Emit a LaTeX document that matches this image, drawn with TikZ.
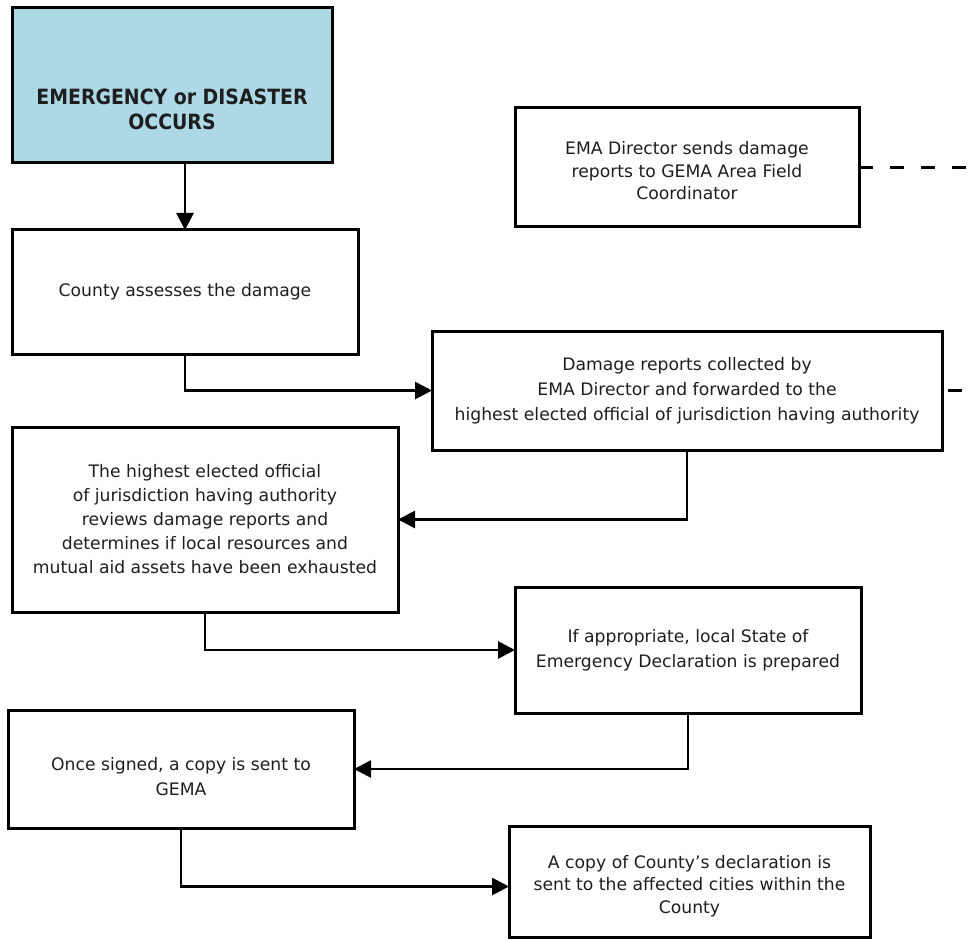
\documentclass[tikz,border=0pt]{standalone}
\usepackage{fontspec}
\setmainfont{DejaVu Sans}
\newfontfamily\condfont{DejaVu Sans Condensed}
\usetikzlibrary{arrows.meta}
\definecolor{ltblue}{RGB}{173,216,230}
\definecolor{txt}{RGB}{30,30,30}
\begin{document}
\begin{tikzpicture}[x=1pt,y=-1pt,
  box/.style={draw=black,line width=3pt,rectangle,inner sep=0pt,outer sep=0pt,align=center,text=txt},
  lbl/.style={inner sep=0pt,align=center,text=txt},
  arr/.style={line width=2.8pt,-{Triangle[length=17pt,width=17pt]}},
  dashline/.style={line width=2.8pt,dash pattern=on 14pt off 17pt},
  t20/.style={font=\fontsize{17.2}{20}\selectfont},
  t22/.style={font=\fontsize{17.2}{22.5}\selectfont},
  t25/.style={font=\fontsize{17.2}{25}\selectfont}]
\useasboundingbox (0,0) rectangle (968,941);
\node[box,fill=ltblue,minimum width=320pt,minimum height=155pt] (b1) at (172,85.5) {};
\node[lbl,font=\condfont\bfseries\fontsize{21}{25}\selectfont] (b1t) at (172,109) {EMERGENCY or DISASTER\\OCCURS};
\node[box,minimum width=346pt,minimum height=124pt,t20] (b2) at (185,292) {County assesses the damage};
\node[box,minimum width=344pt,minimum height=119pt] (b3) at (687,167.5) {};
\node[lbl,t22] (b3t) at (687,171) {EMA Director sends damage\\reports to GEMA Area Field\\Coordinator};
\node[box,minimum width=510pt,minimum height=119pt,t25] (b4) at (687,390.5) {Damage reports collected by\\EMA Director and forwarded to the\\highest elected official of jurisdiction having authority};
\node[box,minimum width=386pt,minimum height=185pt,font=\fontsize{17.2}{24}\selectfont] (b5) at (205,519.5) {The highest elected official\\of jurisdiction having authority\\reviews damage reports and\\determines if local resources and\\mutual aid assets have been exhausted};
\node[box,minimum width=346pt,minimum height=126pt,t25] (b6) at (688,650) {If appropriate, local State of\\Emergency Declaration is prepared};
\node[box,minimum width=346pt,minimum height=118pt] (b7) at (181,769) {};
\node[lbl,t25] (b7t) at (181,777) {Once signed, a copy is sent to\\GEMA};
\node[box,minimum width=361pt,minimum height=111pt] (b8) at (689.5,881.5) {};
\node[lbl,t22] (b8t) at (689.5,886) {A copy of County's declaration is\\sent to the affected cities within the\\County};
\coordinate (d3) at (975,167.5);
\coordinate (d4) at (975,390.5);
\draw[arr] (b2.north |- b1.south) -- (b2.north);
\draw[arr] (b2.south) |- (b4.west);
\draw[arr] (b4.south) |- (b5.east);
\draw[arr] (b5.south) |- (b6.west);
\draw[arr] (b6.south) |- (b7.east);
\draw[arr] (b7.south) |- ([yshift=-5pt]b8.west);
\draw[dashline] (b3.east) -- (d3);
\draw[dashline,dash phase=25pt] (b4.east) -- (d4);
\end{tikzpicture}
\end{document}
